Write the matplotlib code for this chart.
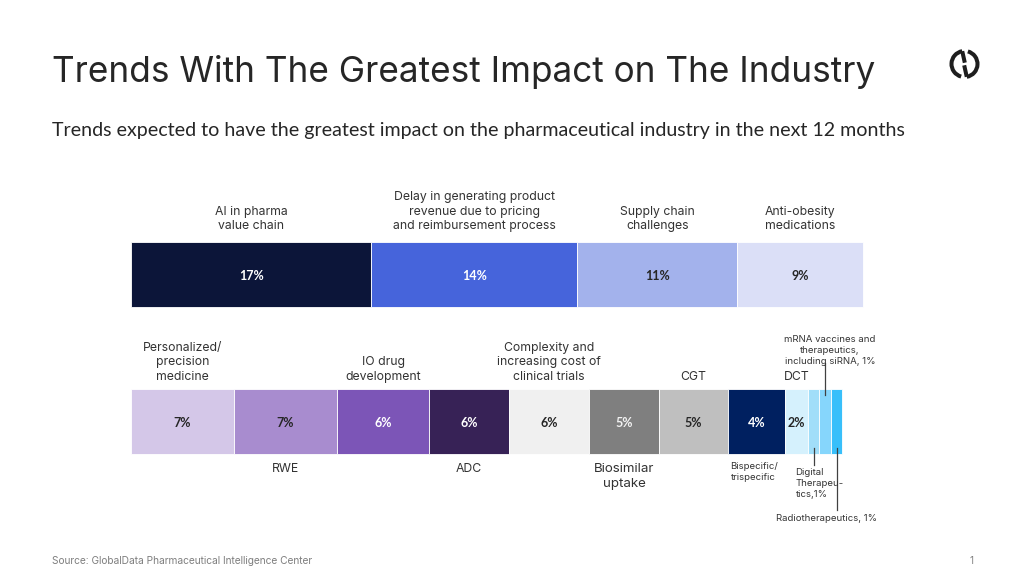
import matplotlib
matplotlib.use("Agg")
import matplotlib.pyplot as plt
from matplotlib.patches import Arc
import numpy as np

# ---------------- data ----------------
top_categories = ["AI in pharma\nvalue chain",
                  "Delay in generating product\nrevenue due to pricing\nand reimbursement process",
                  "Supply chain\nchallenges",
                  "Anti-obesity\nmedications"]
top_values = [16.8, 14.4, 11.2, 8.8]
top_labels = ["17%", "14%", "11%", "9%"]

bottom_categories = ["Personalized/\nprecision\nmedicine", "RWE", "IO drug\ndevelopment", "ADC",
                     "Complexity and\nincreasing cost of\nclinical trials", "Biosimilar\nuptake", "CGT",
                     "Bispecific/\ntrispecific", "DCT", "Digital\nTherapeu-\ntics,1%",
                     "mRNA vaccines and\ntherapeutics,\nincluding siRNA, 1%", "Radiotherapeutics, 1%"]
bottom_values = [7.2, 7.2, 6.45, 5.6, 5.6, 4.9, 4.8, 4.0, 1.6, 0.77, 0.81, 0.82]
bottom_labels = ["7%", "7%", "6%", "6%", "6%", "5%", "5%", "4%", "2%", "", "", ""]

# ---------------- style ----------------
top_colors = ["#0C1539", "#4664DB", "#A3B2EC", "#DBDFF7"]
top_text_colors = ["white", "white", "#262626", "#262626"]
bottom_colors = ["#D4C7E8", "#A88CCF", "#7C55B7", "#372256", "#F0F0F0", "#7F7F7F",
                 "#BFBFBF", "#002060", "#D5F1FD", "#A1DEF9", "#86D6FC", "#38BFFA"]
bottom_text_colors = ["#262626", "#262626", "white", "white", "#262626", "#F2F2F2",
                      "#262626", "white", "#262626", "#262626", "#262626", "#262626"]

LABEL_FONT = ["Inter", "DejaVu Sans"]
CAL_FONT = ["Lato", "DejaVu Sans"]
LBL_COL = "#333333"
CAT_FS = 8.8

W, H = 1024, 576
fig = plt.figure(figsize=(W / 100, H / 100), dpi=100)
fig.patch.set_facecolor("white")

# pixel canvas for free texts
cv = fig.add_axes([0, 0, 1, 1])
cv.set_xlim(0, W)
cv.set_ylim(H, 0)
cv.axis("off")

# bar axes: x in percent units, y in pixel rows
S = 14.3          # pixels per percentage point
X0 = 131          # left edge of bars in pixels
ax = fig.add_axes([0, 0, 1, 1])
ax.set_xlim(-X0 / S, (W - X0) / S)
ax.set_ylim(H, 0)
ax.axis("off")
ax.patch.set_alpha(0)

Y_TOP, Y_BOT, BAR_H = 274.8, 421.7, 65

top_left = np.concatenate([[0], np.cumsum(top_values)[:-1]])
bot_left = np.concatenate([[0], np.cumsum(bottom_values)[:-1]])

ax.barh([Y_TOP] * len(top_values), top_values, left=top_left, height=BAR_H,
        color=top_colors, edgecolor="white", linewidth=0.6)
ax.barh([Y_BOT] * len(bottom_values), bottom_values, left=bot_left, height=BAR_H,
        color=bottom_colors, edgecolor="white", linewidth=0.6)

# value labels
for l, v, lab, c in zip(top_left, top_values, top_labels, top_text_colors):
    ax.text(l + v / 2, Y_TOP + 1, lab, ha="center", va="center", fontsize=9,
            fontweight="bold", color=c, family=CAL_FONT)
for l, v, lab, c in zip(bot_left, bottom_values, bottom_labels, bottom_text_colors):
    if lab:
        ax.text(l + v / 2, Y_BOT + 1, lab, ha="center", va="center", fontsize=9,
                fontweight="bold", color=c, family=CAL_FONT)

# top category labels (above bar)
for l, v, cat in zip(top_left, top_values, top_categories):
    ax.text(l + v / 2, Y_TOP - BAR_H / 2 - 10, cat, ha="center", va="bottom",
            fontsize=CAT_FS, color=LBL_COL, family=LABEL_FONT, linespacing=1.3)

# bottom category labels
above = {0, 2, 4, 6, 8}
below = {1, 3, 5}
for i, (l, v, cat) in enumerate(zip(bot_left, bottom_values, bottom_categories)):
    xc = l + v / 2
    if i in above:
        ax.text(xc, Y_BOT - BAR_H / 2 - 6, cat, ha="center", va="bottom",
                fontsize=CAT_FS, color=LBL_COL, family=LABEL_FONT, linespacing=1.3)
    elif i in below:
        ax.text(xc, Y_BOT + BAR_H / 2 + 9, cat, ha="center", va="top",
                fontsize=CAT_FS if i != 5 else 9.6, color=LBL_COL, family=LABEL_FONT,
                linespacing=1.3)

small = dict(fontsize=6.9, color=LBL_COL, family=LABEL_FONT, linespacing=1.3)
# Bispecific / trispecific
i = 7
ax.text(bot_left[i] + bottom_values[i] / 2 - 3 / S, Y_BOT + BAR_H / 2 + 8,
        bottom_categories[i], ha="center", va="top", **small)
# Digital therapeutics
i = 9
xc = bot_left[i] + bottom_values[i] / 2
ax.plot([xc, xc], [Y_BOT + BAR_H / 2 - 6, Y_BOT + BAR_H / 2 + 11], color="#404040", lw=0.9)
ax.text(xc - 18 / S, Y_BOT + BAR_H / 2 + 14, bottom_categories[i], ha="left", va="top", **small)
# mRNA
i = 10
xc = bot_left[i] + bottom_values[i] / 2
ax.plot([xc, xc], [Y_BOT - BAR_H / 2 + 6, Y_BOT - BAR_H / 2 - 26], color="#404040", lw=0.9)
ax.text(xc + 5 / S, Y_BOT - BAR_H / 2 - 23, bottom_categories[i], ha="center", va="bottom", **small)
# Radiotherapeutics
i = 11
xc = bot_left[i] + bottom_values[i] / 2
ax.plot([xc, xc], [Y_BOT + BAR_H / 2 - 6, Y_BOT + BAR_H / 2 + 56], color="#404040", lw=0.9)
ax.text(xc - 10 / S, Y_BOT + BAR_H / 2 + 64, bottom_categories[i], ha="center", va="center", **small)

# ---------------- titles ----------------
fig.canvas.draw()
rend = fig.canvas.get_renderer()


def fit(t, target):
    w = t.get_window_extent(rend).width
    t.set_fontsize(t.get_fontsize() * target / w)


title = cv.text(52, 82, "Trends With The Greatest Impact on The Industry", ha="left",
                va="baseline", fontsize=26, color="#262626", family=LABEL_FONT)
fit(title, 823)
sub = cv.text(52, 136, "Trends expected to have the greatest impact on the pharmaceutical industry in the next 12 months",
              ha="left", va="baseline", fontsize=14, color="#262626", family=CAL_FONT)
fit(sub, 855)
src = cv.text(52, 561, "Source: GlobalData Pharmaceutical Intelligence Center", ha="left",
              va="center", fontsize=7, color="#7F7F7F", family=LABEL_FONT)
fit(src, 262)
cv.text(972, 561, "1", ha="center", va="center", fontsize=7, color="#7F7F7F", family=LABEL_FONT)

# ---------------- logo ----------------
lg = fig.add_axes([(964.5 - 20) / W, 1 - (64 + 20) / H, 40 / W, 40 / H])
lg.set_xlim(-20, 20)
lg.set_ylim(-20, 20)
lg.axis("off")
r = 13.0
lw = 2.9
col = "#1E1E1E"
lg.add_patch(Arc((0, 0), 2 * r, 2 * r, theta1=100, theta2=255, lw=lw, color=col))
lg.add_patch(Arc((0, 0), 2 * r, 2 * r, theta1=280, theta2=435, lw=lw, color=col))
a = np.deg2rad(100)
lg.plot([r * np.cos(a), 0.3], [r * np.sin(a), 1.3], color=col, lw=lw, solid_capstyle="butt")
a = np.deg2rad(280)
lg.plot([r * np.cos(a), -0.3], [r * np.sin(a), -1.3], color=col, lw=lw, solid_capstyle="butt")

fig.savefig("out.png", dpi=100, facecolor="white")
